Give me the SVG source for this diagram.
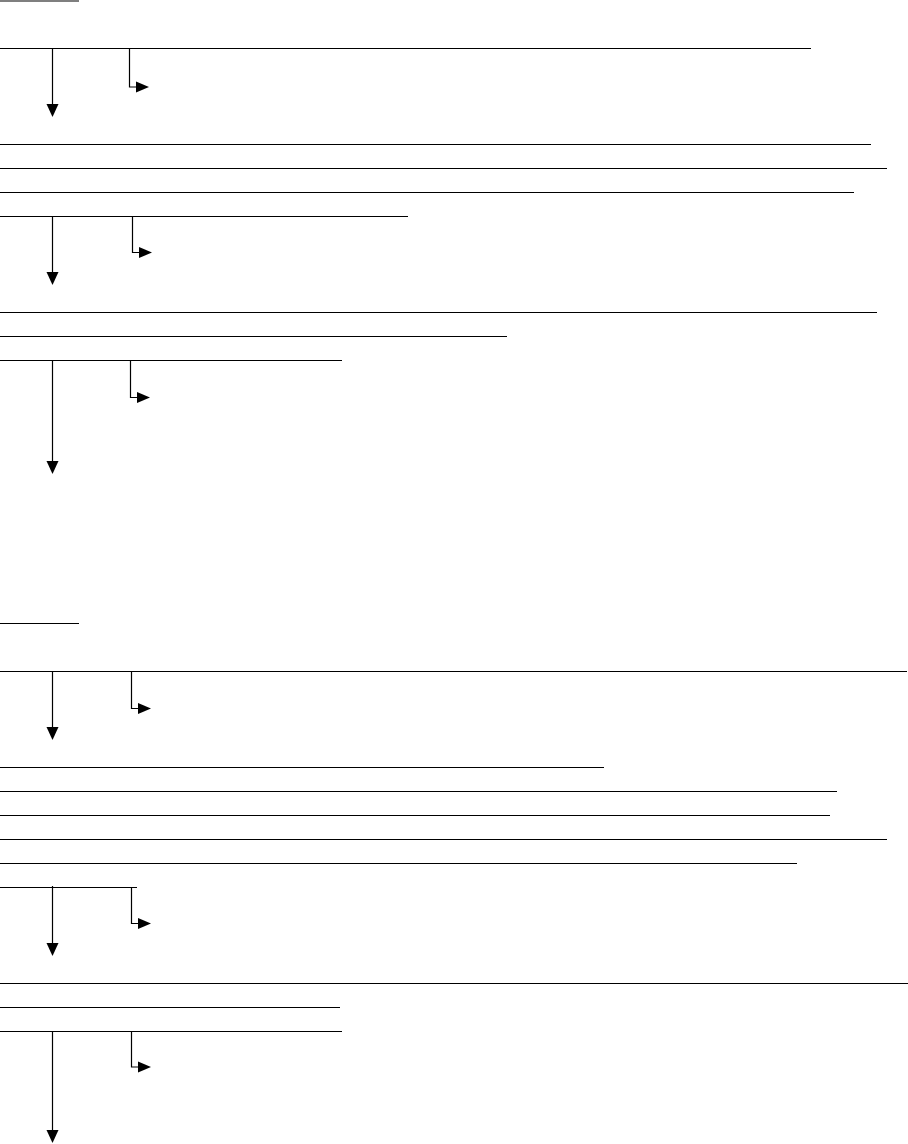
<svg xmlns="http://www.w3.org/2000/svg" xmlns:xlink="http://www.w3.org/1999/xlink" width="908" height="1144" viewBox="0 0 908 1144">
<style>
.ln{stroke:#000;stroke-width:1.2;fill:none}
.ah{fill:#000;stroke:none}
</style>
<defs>
<path id="ad" class="ah" d="M-6,0 H6 L0,13 Z"/>
<path id="ar" class="ah" d="M0,-5.5 V5.5 L13,0 Z"/>
</defs>
<rect width="908" height="1144" fill="#fff"/>
<g id="block1">
<line class="ln" x1="0" y1="1" x2="79" y2="1"/>
<line class="ln" x1="0" y1="48.5" x2="811" y2="48.5"/>
</g>
<g id="block2">
<line class="ln" x1="0" y1="144.5" x2="871" y2="144.5"/>
<line class="ln" x1="0" y1="168.5" x2="887" y2="168.5"/>
<line class="ln" x1="0" y1="192.5" x2="854" y2="192.5"/>
<line class="ln" x1="0" y1="216.5" x2="408" y2="216.5"/>
</g>
<g id="block3">
<line class="ln" x1="0" y1="312.5" x2="877" y2="312.5"/>
<line class="ln" x1="0" y1="336.5" x2="507" y2="336.5"/>
<line class="ln" x1="0" y1="360.5" x2="342" y2="360.5"/>
</g>
<g id="block4">
<line class="ln" x1="0" y1="623.5" x2="79" y2="623.5"/>
<line class="ln" x1="0" y1="671.5" x2="907" y2="671.5"/>
</g>
<g id="block5">
<line class="ln" x1="0" y1="767.5" x2="604" y2="767.5"/>
<line class="ln" x1="0" y1="791.5" x2="837" y2="791.5"/>
<line class="ln" x1="0" y1="815.5" x2="830" y2="815.5"/>
<line class="ln" x1="0" y1="839.5" x2="887" y2="839.5"/>
<line class="ln" x1="0" y1="863.5" x2="797" y2="863.5"/>
<line class="ln" x1="0" y1="887.5" x2="137" y2="887.5"/>
</g>
<g id="block6">
<line class="ln" x1="0" y1="983.5" x2="908" y2="983.5"/>
<line class="ln" x1="0" y1="1007.5" x2="340" y2="1007.5"/>
<line class="ln" x1="0" y1="1031.5" x2="342" y2="1031.5"/>
</g>
<g id="connectors">
<path class="ln" d="M52.5,48.5 V105"/><use xlink:href="#ad" x="52.5" y="104"/>
<path class="ln" d="M129.5,48.5 V87 H137"/><use xlink:href="#ar" x="136" y="87"/>
<path class="ln" d="M52.5,216.5 V273"/><use xlink:href="#ad" x="52.5" y="272"/>
<path class="ln" d="M132.5,216.5 V252.5 H140"/><use xlink:href="#ar" x="139" y="252.5"/>
<path class="ln" d="M52.5,360.5 V462"/><use xlink:href="#ad" x="52.5" y="461"/>
<path class="ln" d="M130.5,360.5 V397.5 H138"/><use xlink:href="#ar" x="137" y="397.5"/>
<path class="ln" d="M52.5,671.5 V728"/><use xlink:href="#ad" x="52.5" y="727"/>
<path class="ln" d="M131.5,671.5 V708.5 H139"/><use xlink:href="#ar" x="138" y="708.5"/>
<path class="ln" d="M52.5,886 V944"/><use xlink:href="#ad" x="52.5" y="943"/>
<path class="ln" d="M131.5,887.5 V923.5 H139"/><use xlink:href="#ar" x="138" y="923.5"/>
<path class="ln" d="M52.5,1031.5 V1131"/><use xlink:href="#ad" x="52.5" y="1130"/>
<path class="ln" d="M131.5,1031.5 V1067 H139"/><use xlink:href="#ar" x="138" y="1067"/>
</g>
</svg>
